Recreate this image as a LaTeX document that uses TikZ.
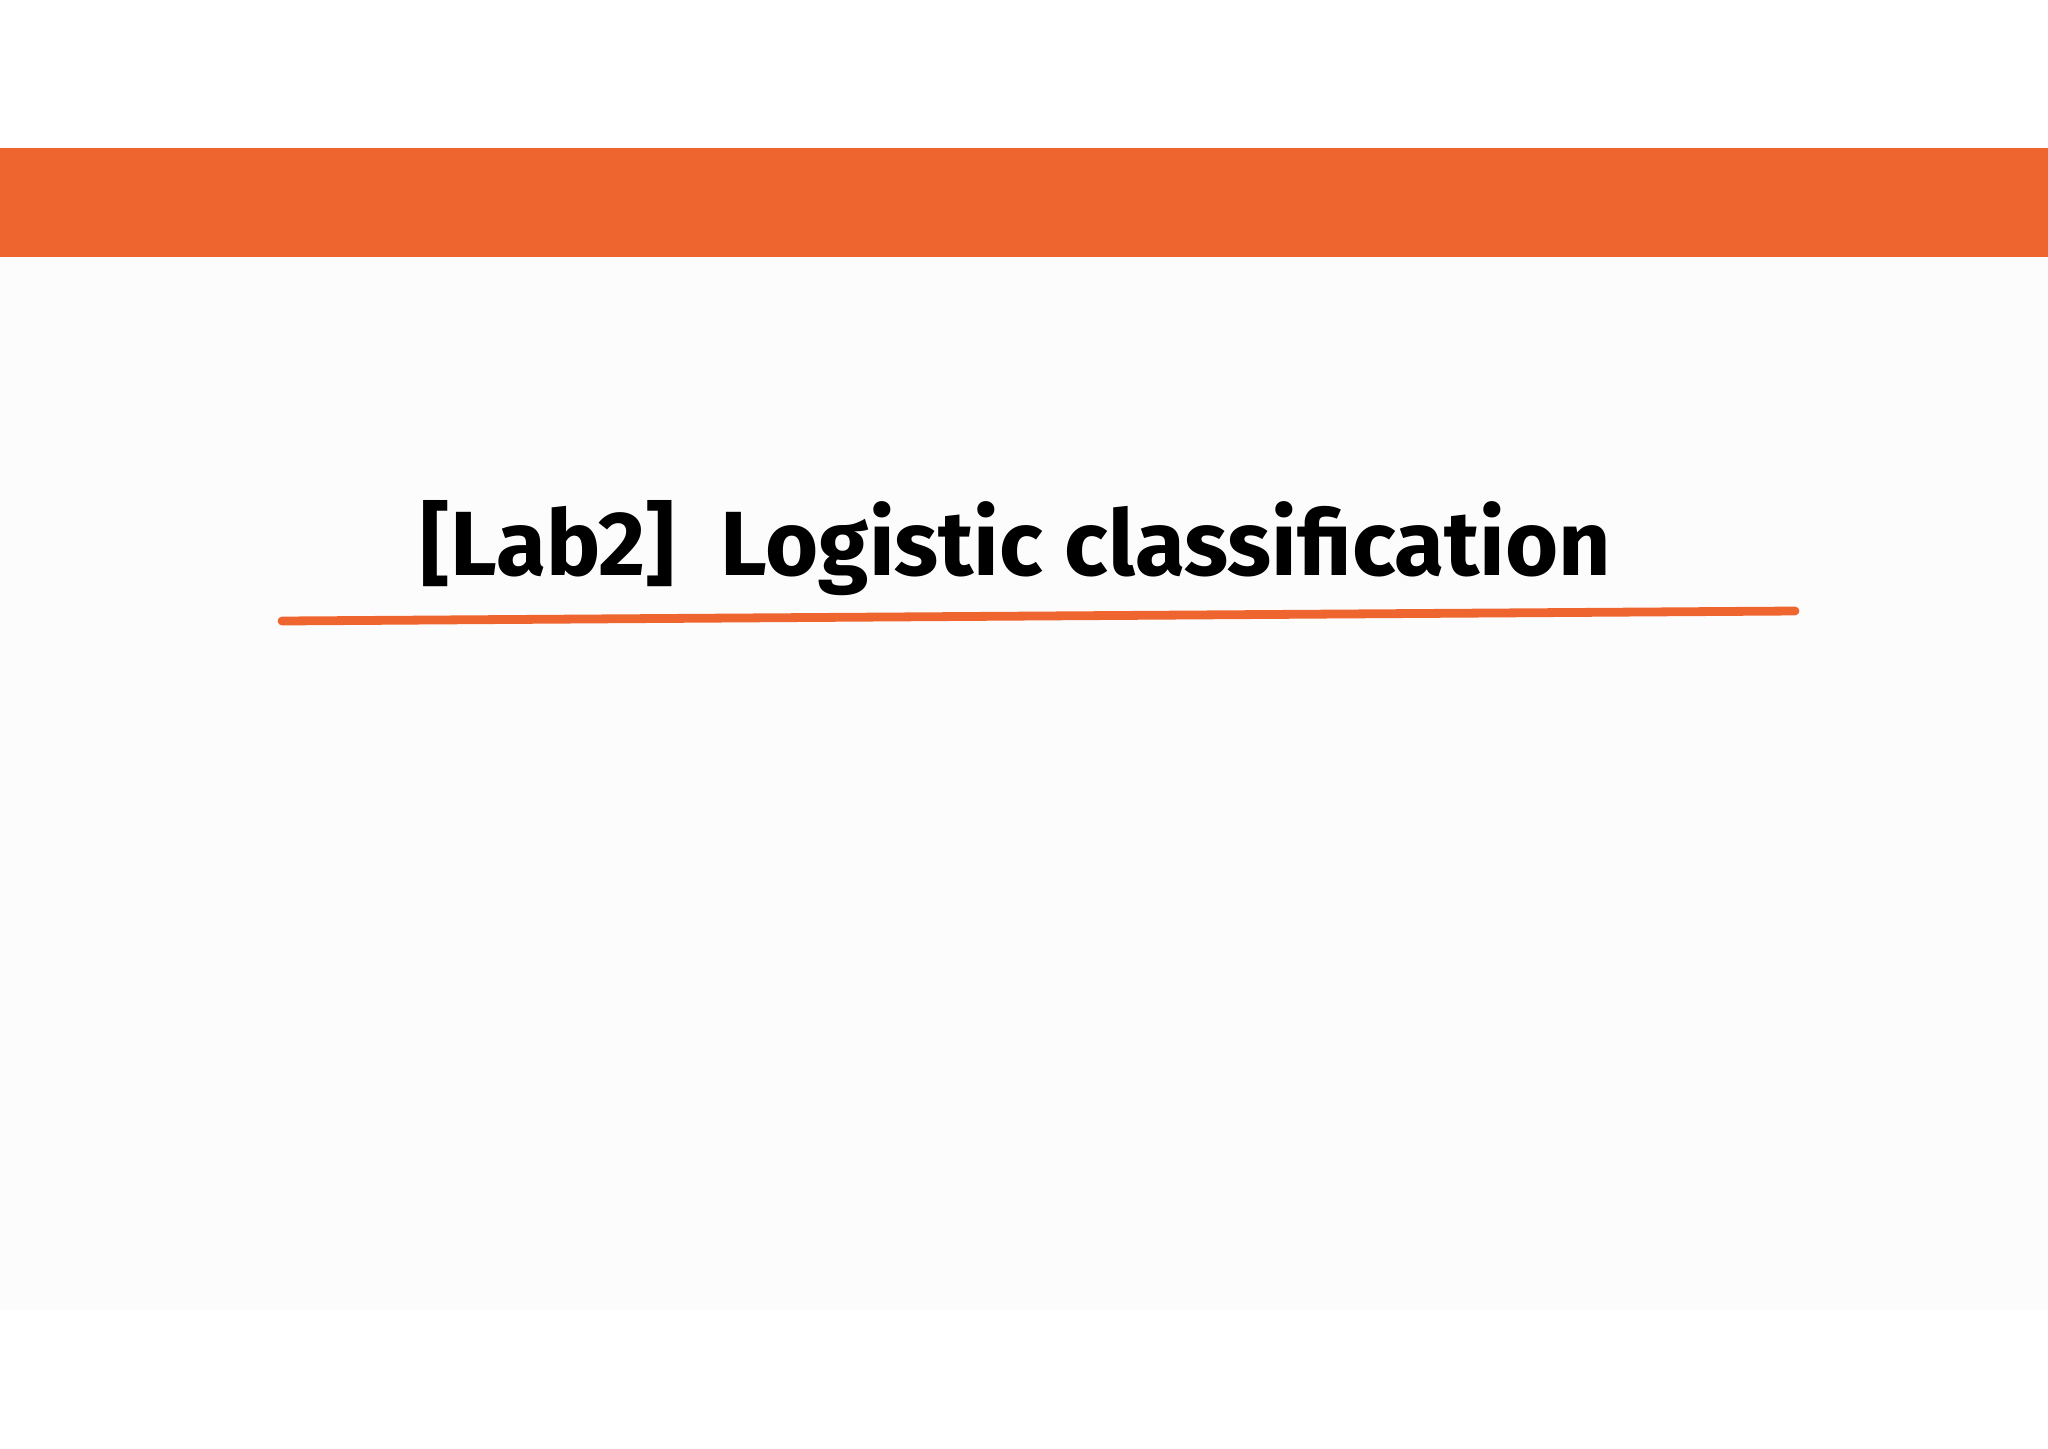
\documentclass[tikz,border=0pt]{standalone}
\usepackage{fontspec}
\setmainfont{Fira Sans}
\definecolor{barorange}{HTML}{EF652F}
\definecolor{bgdot}{HTML}{FCFCFC}
\begin{document}
\begin{tikzpicture}[x=0.01cm,y=-0.01cm]
\useasboundingbox (0,0) rectangle (2048,1448);
\fill[white] (0,0) rectangle (2048,1448);
\fill[bgdot] (0,257) rectangle (2048,1310);
\fill[barorange] (0,148) rectangle (2048,257);
\node[anchor=base west,inner sep=0pt] (title) at (420,575)
  {\resizebox{11.9cm}{!}{\bfseries [Lab2]\enspace Logistic classification}};
\coordinate (ul1) at (282,621);
\coordinate (ul2) at (1795,611);
\draw[barorange,line width=2.5pt,line cap=round] (ul1) -- (ul2);
\end{tikzpicture}
\end{document}
